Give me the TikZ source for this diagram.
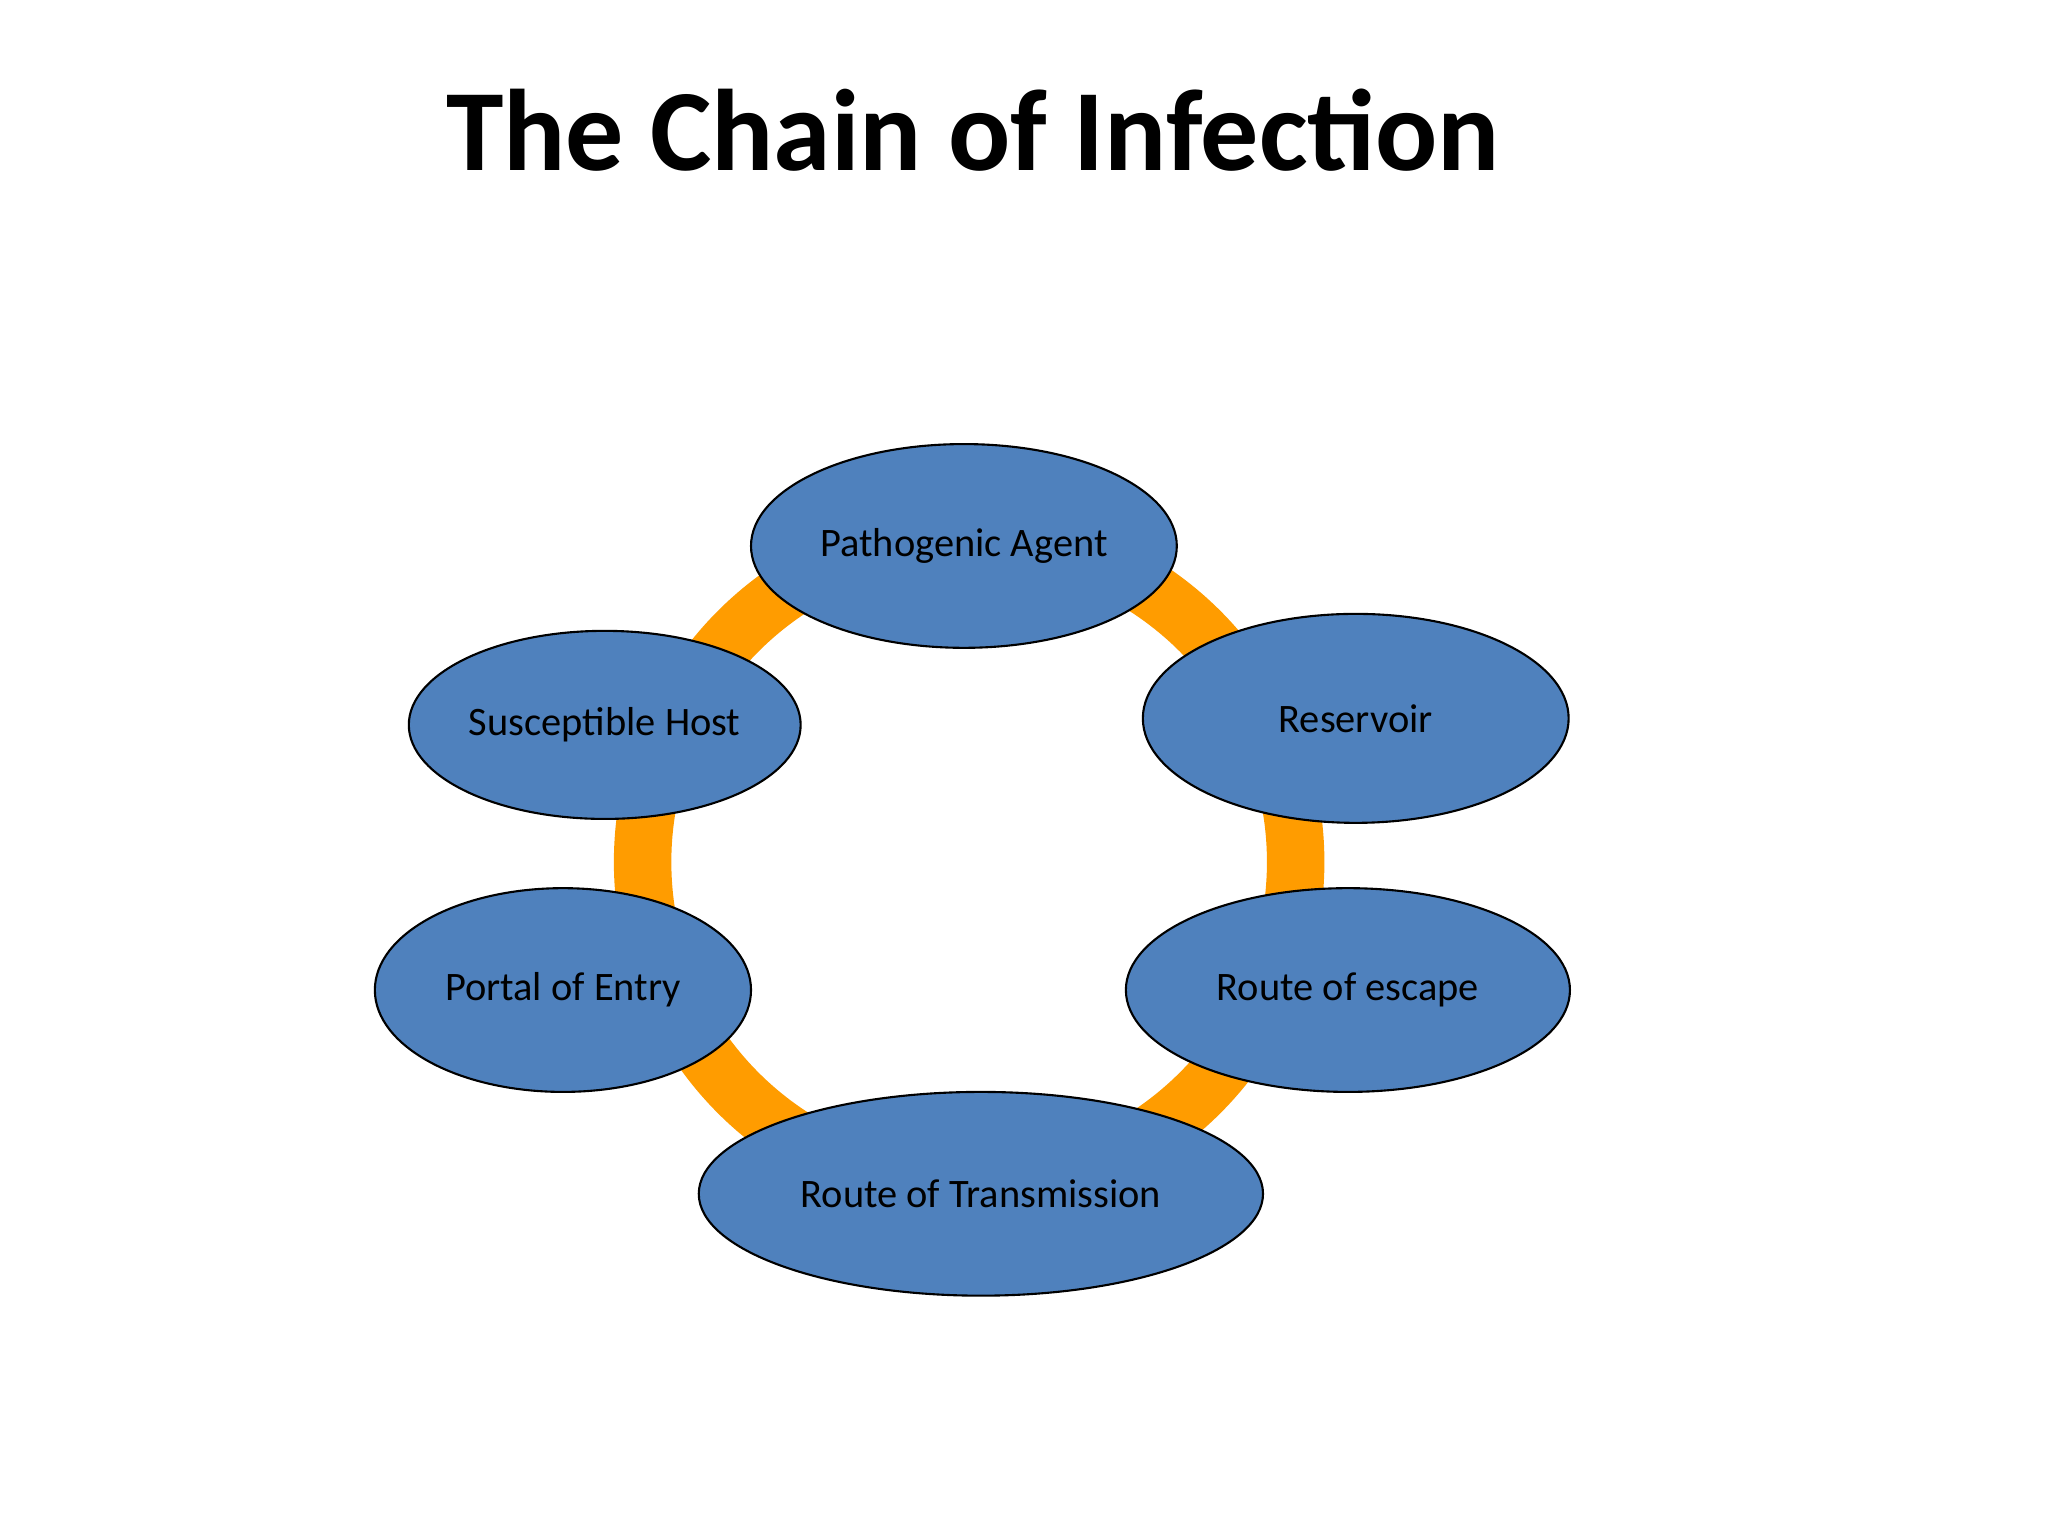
\documentclass[tikz,border=0pt]{standalone}
\usepackage{fontspec}
\setmainfont{Carlito}
\usetikzlibrary{shapes.geometric}
\begin{document}
\begin{tikzpicture}[x=0.01306cm,y=-0.01306cm,
  el/.style={ellipse,draw=black,line width=0.6pt,fill={rgb,255:red,79;green,129;blue,189},inner sep=0pt,font=\fontsize{11.5}{14}\selectfont}]
\useasboundingbox (0,0) rectangle (1568,1176);
\node[font=\fontsize{33}{40}\bfseries\selectfont] (title) at (745,100) {The Chain of Infection};
\draw[line width=44*0.01306cm,color={rgb,255:red,255;green,156;blue,0}] (742,660) circle (250);
\node[el,minimum width=326*0.01306cm,minimum height=156*0.01306cm] (pa) at (738,418) {Pathogenic Agent};
\node[el,minimum width=326*0.01306cm,minimum height=160*0.01306cm] (re) at (1038,550) {Reservoir};
\node[el,minimum width=340*0.01306cm,minimum height=156*0.01306cm] (ro) at (1032,758) {Route of escape};
\node[el,minimum width=432*0.01306cm,minimum height=156*0.01306cm] (rt) at (751,914) {Route of Transmission};
\node[el,minimum width=288*0.01306cm,minimum height=156*0.01306cm] (pe) at (431,758) {Portal of Entry};
\node[el,minimum width=300*0.01306cm,minimum height=144*0.01306cm] (sh) at (463,555) {Susceptible Host};
\end{tikzpicture}
\end{document}
